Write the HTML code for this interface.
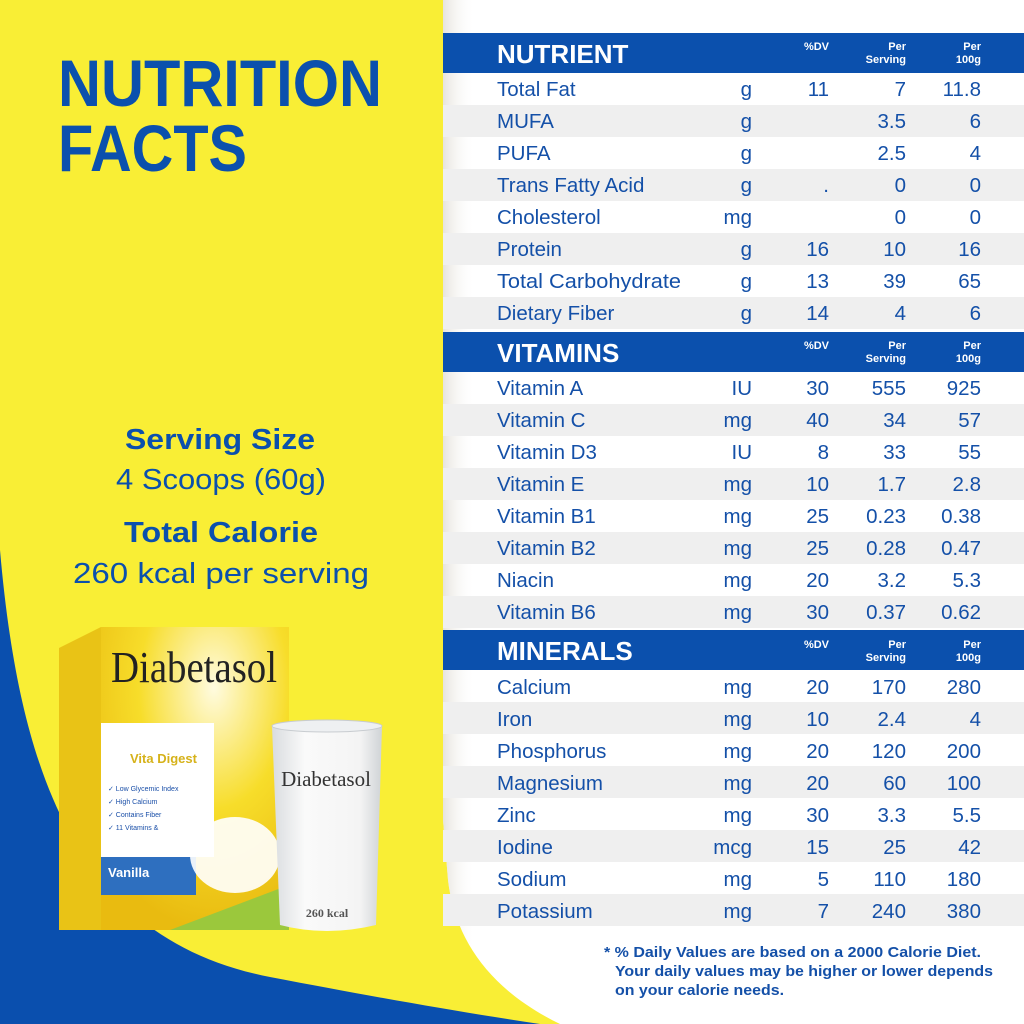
<!DOCTYPE html>
<html><head><meta charset="utf-8"><style>
html,body{margin:0;padding:0;width:1024px;height:1024px;overflow:hidden;background:#fff}
svg{display:block}
text{font-family:"Liberation Sans",sans-serif}
text.sf{font-family:"Liberation Serif",serif}
</style></head><body>
<svg width="1024" height="1024" viewBox="0 0 1024 1024" xmlns="http://www.w3.org/2000/svg">
<defs>
<linearGradient id="sh" x1="443" x2="475" y1="0" y2="0" gradientUnits="userSpaceOnUse">
<stop offset="0" stop-color="#dcd8cf"/><stop offset="1" stop-color="#ffffff" stop-opacity="0"/>
</linearGradient>
<radialGradient id="bx" cx="0.6" cy="0.2" r="0.8">
<stop offset="0" stop-color="#fffbe0"/><stop offset="0.5" stop-color="#f7dd2a"/><stop offset="1" stop-color="#e9bb10"/>
</radialGradient>
<linearGradient id="gl" x1="0" x2="1">
<stop offset="0" stop-color="#d9dcdf"/><stop offset="0.3" stop-color="#fafafa"/><stop offset="0.8" stop-color="#f4f4f4"/><stop offset="1" stop-color="#cfd3d6"/>
</linearGradient>
</defs>
<rect width="1024" height="1024" fill="#f9ee35"/>
<path d="M0,550 C20,780 80,940 270,977 C380,998 460,1012 540,1024 L0,1024Z" fill="#0a4fae"/>
<path d="M443,0 L1024,0 L1024,1024 L560,1024 C490,990 455,940 448,880 L443,820 Z" fill="#fff"/>
<path d="M443,0 L475,0 L475,1024 L560,1024 C490,990 455,940 448,880 L443,820 Z" fill="url(#sh)" opacity="0.7"/>

<g fill="#0b50ad" font-weight="bold">
<text x="58" y="106" font-size="66" textLength="324" lengthAdjust="spacingAndGlyphs">NUTRITION</text>
<text x="58" y="171" font-size="66" textLength="189" lengthAdjust="spacingAndGlyphs">FACTS</text>
</g>
<g fill="#0b50ad" font-size="29" text-anchor="middle">
<text x="220" y="449" font-weight="bold" textLength="190" lengthAdjust="spacingAndGlyphs">Serving Size</text>
<text x="221" y="489" textLength="210" lengthAdjust="spacingAndGlyphs">4 Scoops (60g)</text>
<text x="221" y="542" font-weight="bold" textLength="194" lengthAdjust="spacingAndGlyphs">Total Calorie</text>
<text x="221" y="583" textLength="296" lengthAdjust="spacingAndGlyphs">260 kcal per serving</text>
</g>

<path d="M59,648 L101,627 L101,930 L59,930Z" fill="#e9c316"/>
<rect x="101" y="627" width="188" height="303" fill="url(#bx)"/>
<text class="sf" x="111" y="682" font-size="44" fill="#222" textLength="166" lengthAdjust="spacingAndGlyphs">Diabetasol</text>
<rect x="101" y="723" width="113" height="134" fill="#fff"/>
<text x="130" y="763" font-size="13" font-weight="bold" fill="#d6b21a">Vita Digest</text>
<text x="108" y="791" font-size="7" fill="#1a4fa8">✓ Low Glycemic Index</text>
<text x="108" y="804" font-size="7" fill="#1a4fa8">✓ High Calcium</text>
<text x="108" y="817" font-size="7" fill="#1a4fa8">✓ Contains Fiber</text>
<text x="108" y="830" font-size="7" fill="#1a4fa8">✓ 11 Vitamins &amp;</text>
<rect x="101" y="857" width="95" height="38" fill="#2e6fbf"/>
<text x="108" y="877" font-size="13" font-weight="bold" fill="#fff">Vanilla</text>
<path d="M170,930 L289,930 L289,885 Z" fill="#9bc83c"/>
<ellipse cx="235" cy="855" rx="45" ry="38" fill="#fff" opacity="0.9"/>
<path d="M272,726 Q326,716 382,726 L376,925 Q326,937 280,925Z" fill="url(#gl)"/>
<ellipse cx="327" cy="726" rx="55" ry="6" fill="#eef0f2" stroke="#c8ccd0"/>
<text class="sf" x="326" y="786" text-anchor="middle" font-size="21" fill="#333">Diabetasol</text>
<text class="sf" x="327" y="917" text-anchor="middle" font-size="12" font-weight="bold" fill="#555">260 kcal</text>

<g fill="#efefef">
<rect x="443" y="105" width="581" height="32"/><rect x="443" y="169" width="581" height="32"/>
<rect x="443" y="233" width="581" height="32"/><rect x="443" y="297" width="581" height="32"/>
<rect x="443" y="404" width="581" height="32"/><rect x="443" y="468" width="581" height="32"/>
<rect x="443" y="532" width="581" height="32"/><rect x="443" y="596" width="581" height="32"/>
<rect x="443" y="702" width="581" height="32"/><rect x="443" y="766" width="581" height="32"/>
<rect x="443" y="830" width="581" height="32"/><rect x="443" y="894" width="581" height="32"/>
</g>
<g fill="#0b50ad">
<rect x="443" y="33" width="581" height="40"/>
<rect x="443" y="332" width="581" height="40"/>
<rect x="443" y="630" width="581" height="40"/>
</g>
<g fill="#fff" font-weight="bold">
<text x="497" y="63" font-size="26">NUTRIENT</text>
<text x="497" y="362" font-size="26">VITAMINS</text>
<text x="497" y="660" font-size="26">MINERALS</text>
<g font-size="11" text-anchor="end">
<text x="829" y="50">%DV</text><text x="906" y="50">Per</text><text x="906" y="63">Serving</text><text x="981" y="50">Per</text><text x="981" y="63">100g</text>
<text x="829" y="349">%DV</text><text x="906" y="349">Per</text><text x="906" y="362">Serving</text><text x="981" y="349">Per</text><text x="981" y="362">100g</text>
<text x="829" y="648">%DV</text><text x="906" y="648">Per</text><text x="906" y="661">Serving</text><text x="981" y="648">Per</text><text x="981" y="661">100g</text>
</g>
</g>
<g fill="#1450a8" font-size="20.5">
<g>
<text x="497" y="96">Total Fat</text><text x="497" y="128">MUFA</text><text x="497" y="160">PUFA</text>
<text x="497" y="192">Trans Fatty Acid</text><text x="497" y="224">Cholesterol</text><text x="497" y="256">Protein</text>
<text x="497" y="288" textLength="184" lengthAdjust="spacingAndGlyphs">Total Carbohydrate</text><text x="497" y="320">Dietary Fiber</text>
<text x="497" y="395">Vitamin A</text><text x="497" y="427">Vitamin C</text><text x="497" y="459">Vitamin D3</text>
<text x="497" y="491">Vitamin E</text><text x="497" y="523">Vitamin B1</text><text x="497" y="555">Vitamin B2</text>
<text x="497" y="587">Niacin</text><text x="497" y="619">Vitamin B6</text>
<text x="497" y="694">Calcium</text><text x="497" y="726">Iron</text><text x="497" y="758">Phosphorus</text>
<text x="497" y="790">Magnesium</text><text x="497" y="822">Zinc</text><text x="497" y="854">Iodine</text>
<text x="497" y="886">Sodium</text><text x="497" y="918">Potassium</text>
</g>
<g text-anchor="end">
<text x="752" y="96">g</text><text x="752" y="128">g</text><text x="752" y="160">g</text><text x="752" y="192">g</text>
<text x="752" y="224">mg</text><text x="752" y="256">g</text><text x="752" y="288">g</text><text x="752" y="320">g</text>
<text x="752" y="395">IU</text><text x="752" y="427">mg</text><text x="752" y="459">IU</text><text x="752" y="491">mg</text>
<text x="752" y="523">mg</text><text x="752" y="555">mg</text><text x="752" y="587">mg</text><text x="752" y="619">mg</text>
<text x="752" y="694">mg</text><text x="752" y="726">mg</text><text x="752" y="758">mg</text><text x="752" y="790">mg</text>
<text x="752" y="822">mg</text><text x="752" y="854">mcg</text><text x="752" y="886">mg</text><text x="752" y="918">mg</text>

<text x="829" y="96">11</text><text x="829" y="192">.</text><text x="829" y="256">16</text><text x="829" y="288">13</text><text x="829" y="320">14</text>
<text x="829" y="395">30</text><text x="829" y="427">40</text><text x="829" y="459">8</text><text x="829" y="491">10</text>
<text x="829" y="523">25</text><text x="829" y="555">25</text><text x="829" y="587">20</text><text x="829" y="619">30</text>
<text x="829" y="694">20</text><text x="829" y="726">10</text><text x="829" y="758">20</text><text x="829" y="790">20</text>
<text x="829" y="822">30</text><text x="829" y="854">15</text><text x="829" y="886">5</text><text x="829" y="918">7</text>

<text x="906" y="96">7</text><text x="906" y="128">3.5</text><text x="906" y="160">2.5</text><text x="906" y="192">0</text>
<text x="906" y="224">0</text><text x="906" y="256">10</text><text x="906" y="288">39</text><text x="906" y="320">4</text>
<text x="906" y="395">555</text><text x="906" y="427">34</text><text x="906" y="459">33</text><text x="906" y="491">1.7</text>
<text x="906" y="523">0.23</text><text x="906" y="555">0.28</text><text x="906" y="587">3.2</text><text x="906" y="619">0.37</text>
<text x="906" y="694">170</text><text x="906" y="726">2.4</text><text x="906" y="758">120</text><text x="906" y="790">60</text>
<text x="906" y="822">3.3</text><text x="906" y="854">25</text><text x="906" y="886">110</text><text x="906" y="918">240</text>

<text x="981" y="96">11.8</text><text x="981" y="128">6</text><text x="981" y="160">4</text><text x="981" y="192">0</text>
<text x="981" y="224">0</text><text x="981" y="256">16</text><text x="981" y="288">65</text><text x="981" y="320">6</text>
<text x="981" y="395">925</text><text x="981" y="427">57</text><text x="981" y="459">55</text><text x="981" y="491">2.8</text>
<text x="981" y="523">0.38</text><text x="981" y="555">0.47</text><text x="981" y="587">5.3</text><text x="981" y="619">0.62</text>
<text x="981" y="694">280</text><text x="981" y="726">4</text><text x="981" y="758">200</text><text x="981" y="790">100</text>
<text x="981" y="822">5.5</text><text x="981" y="854">42</text><text x="981" y="886">180</text><text x="981" y="918">380</text>
</g>
</g>
<g fill="#1450a8" font-size="15" font-weight="bold">
<text x="604" y="957" textLength="377" lengthAdjust="spacingAndGlyphs">* % Daily Values are based on a 2000 Calorie Diet.</text>
<text x="615" y="976" textLength="378" lengthAdjust="spacingAndGlyphs">Your daily values may be higher or lower depends</text>
<text x="615" y="995" textLength="169" lengthAdjust="spacingAndGlyphs">on your calorie needs.</text>
</g>
</svg>
</body></html>
